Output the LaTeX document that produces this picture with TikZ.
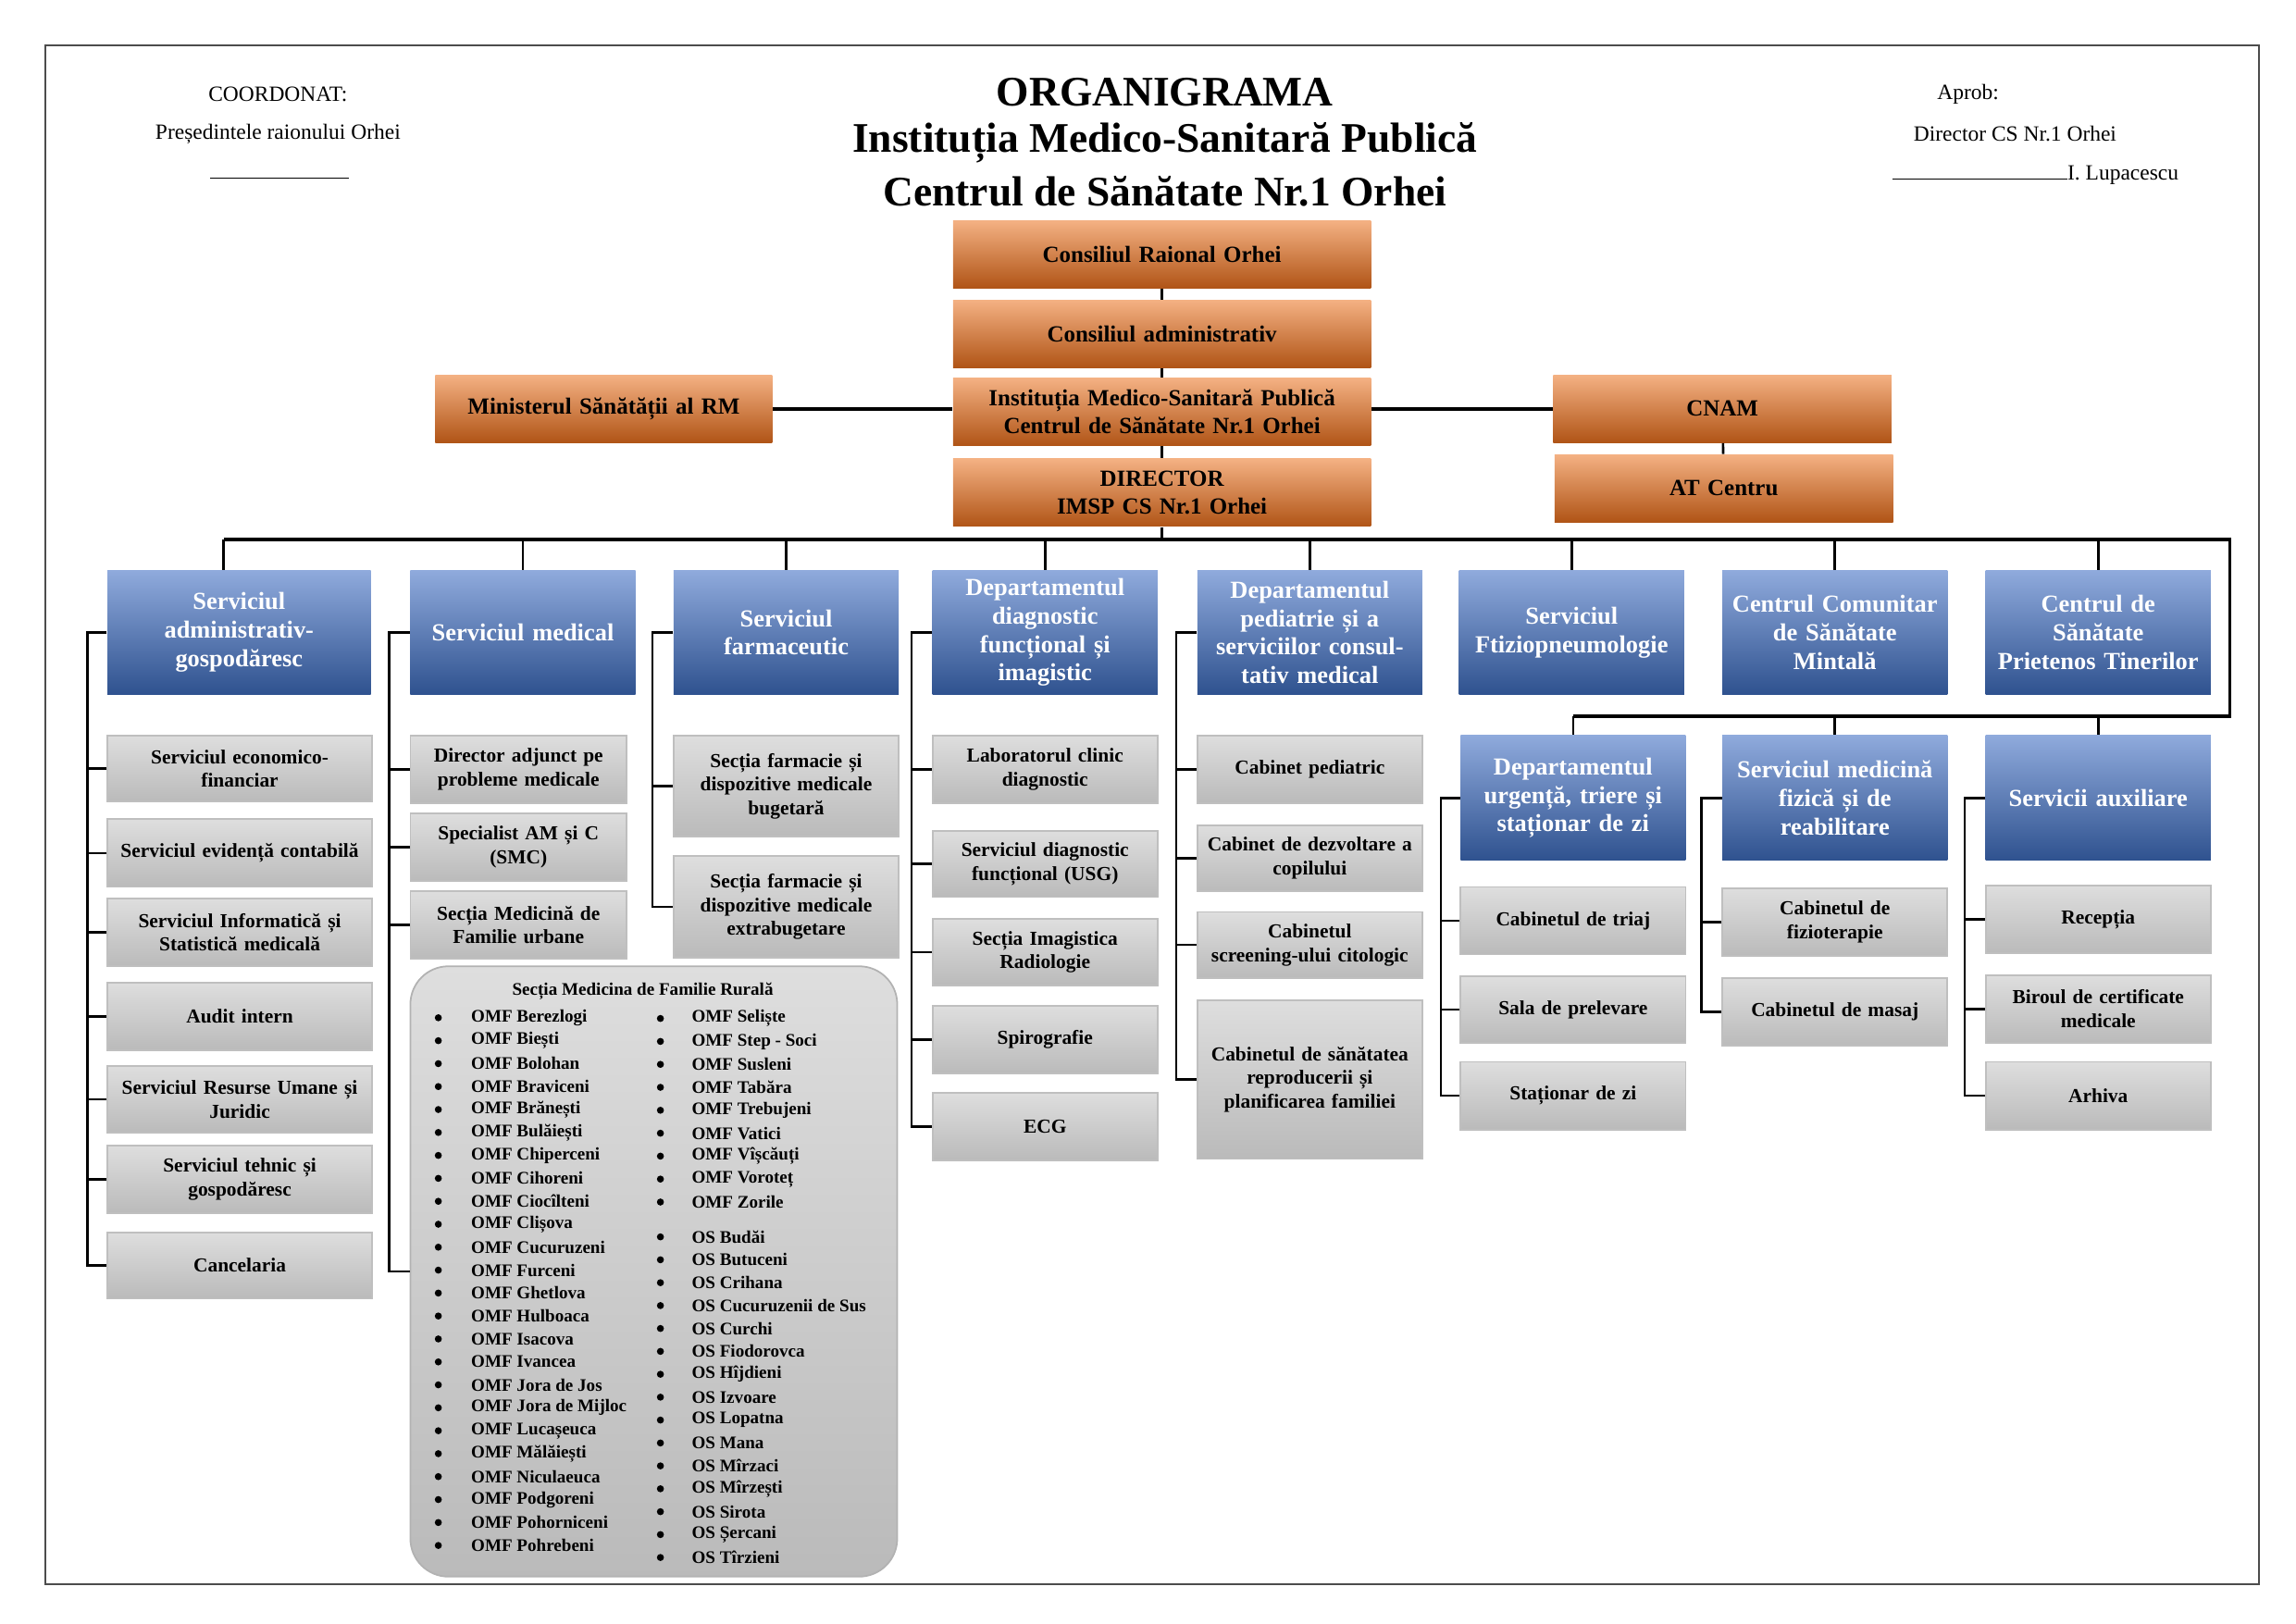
\documentclass[tikz,border=0pt]{standalone}
\usepackage{fontspec}
\setmainfont{Liberation Serif}
\begin{document}
\begin{tikzpicture}[x=0.019026cm,y=-0.019026cm,
  ln/.style={line width=0.9pt,black},
  obox/.style={draw=none,inner sep=1pt,align=center,font=\fontsize{8.5}{10}\selectfont\bfseries,
    top color={rgb,255:red,244;green,177;blue,131},middle color={rgb,255:red,237;green,125;blue,49},bottom color={rgb,255:red,176;green,84;blue,22}},
  bbox/.style={draw=none,inner sep=1pt,align=center,text=white,font=\fontsize{9}{10.5}\selectfont\bfseries,
    top color={rgb,255:red,143;green,170;blue,220},middle color={rgb,255:red,68;green,114;blue,196},bottom color={rgb,255:red,47;green,82;blue,143}},
  gbox/.style={draw=black!25,line width=0.6pt,top color=black!13,bottom color=black!27,inner sep=1pt,align=center,font=\fontsize{7.3}{8.7}\selectfont\bfseries},
  hdr/.style={font=\fontsize{8}{9}\selectfont,inner sep=0pt},
  ttl/.style={font=\fontsize{15.5}{17}\selectfont\bfseries,inner sep=0pt},
  li/.style={font=\fontsize{6.5}{7}\selectfont\bfseries,inner sep=0pt,anchor=west},
  bul/.style={circle,fill=black,inner sep=0pt,minimum size=2.6pt}]
\newcommand\bx[7]{\pgfmathsetmacro\tw{(#5-#3)*0.019026*28.4527-4}%
 \node[#1,minimum width={(#5-#3)*0.019026cm},minimum height={(#6-#4)*0.019026cm},text width=\tw pt] (#2) at ({(#3+#5)/2},{(#4+#6)/2}) {#7};}
\useasboundingbox (0,0) rectangle (1561,1104);
\draw[line width=0.6pt,black!70] (31,31) rectangle (1536,1077);
% header
\node[hdr] (co) at (189,64) {COORDONAT:};
\node[hdr] (pr) at (189,91) {Președintele raionului Orhei};
\node[hdr] (sl) at (190,121) {\rule{1.8cm}{0.4pt}};
\node[hdr] (ap) at (1338,64) {Aprob:};
\node[hdr] (dr) at (1370,91) {Director CS Nr.1 Orhei};
\node[hdr,anchor=west] (sr) at (1286,119) {\rule{2.27cm}{0.4pt}I. Lupacescu};
\node[ttl] (t1) at (792,63) {ORGANIGRAMA};
\node[ttl] (t2) at (792,97) {Instituția Medico-Sanitară Publică};
\node[ttl] (t3) at (792,130) {Centrul de Sănătate Nr.1 Orhei};
% orange
\bx{obox}{cr}{648}{150}{932}{196}{Consiliul Raional Orhei}
\bx{obox}{ca}{648}{204}{932}{250}{Consiliul administrativ}
\bx{obox}{im}{648}{257}{932}{303}{Instituția Medico-Sanitară Publică\\Centrul de Sănătate Nr.1 Orhei}
\bx{obox}{di}{648}{312}{932}{358}{DIRECTOR\\IMSP CS Nr.1 Orhei}
\bx{obox}{ms}{296}{255}{525}{301}{Ministerul Sănătății al RM}
\bx{obox}{cn}{1056}{255}{1286}{301}{CNAM}
\bx{obox}{at}{1057}{309}{1287}{355}{AT Centru}
\draw[ln] (cr) -- (ca); \draw[ln] (ca) -- (im); \draw[ln] (im) -- (di);
\draw[line width=1.3pt] (ms.east) -- (ms.east -| im.west); \draw[line width=1.3pt] (cn.west -| im.east) -- (cn.west);
\draw[ln] (cn) -- (at);
% blue top row
\bx{bbox}{h1}{73}{388}{252}{472}{Serviciul\\administrativ-\\gospodăresc}
\bx{bbox}{h2}{279}{388}{432}{472}{Serviciul medical}
\bx{bbox}{h3}{458}{388}{611}{472}{Serviciul\\farmaceutic}
\bx{bbox}{h4}{634}{388}{787}{472}{Departamentul\\diagnostic\\funcțional și\\imagistic}
\bx{bbox}{h5}{814}{388}{967}{472}{Departamentul\\pediatrie și a\\serviciilor consul-\\tativ medical}
\bx{bbox}{h6}{992}{388}{1145}{472}{Serviciul\\Ftiziopneumologie}
\bx{bbox}{h7}{1171}{388}{1324}{472}{Centrul Comunitar\\de Sănătate\\Mintală}
\bx{bbox}{h8}{1350}{388}{1503}{472}{Centrul de\\Sănătate\\Prietenos Tinerilor}
\bx{bbox}{u1}{993}{500}{1146}{585}{Departamentul\\urgență, triere și\\staționar de zi}
\bx{bbox}{u2}{1171}{500}{1324}{585}{Serviciul medicină\\fizică și de\\reabilitare}
\bx{bbox}{u3}{1350}{500}{1503}{585}{Servicii auxiliare}
% bus
\coordinate (bL) at (152,367); \coordinate (bR) at (1516,367); \coordinate (b2) at (1516,487);
\draw[line width=1.3pt] (bL) -- (bR) -- (b2) -- (b2 -| u1.north);
\draw[ln] (di.south) -- (di.south |- bL);
\draw[ln] (bL) -- (bL |- h1.north);
\foreach \h in {h2,h3,h4,h5,h6,h7,h8} \draw[ln] (\h.north |- bL) -- (\h.north);
\foreach \h in {u1,u2,u3} \draw[ln] (\h.north |- b2) -- (\h.north);
% column 1
\bx{gbox}{a1}{73}{500}{253}{545}{Serviciul economico-\\financiar}
\bx{gbox}{a2}{73}{557}{253}{603}{Serviciul evidență contabilă}
\bx{gbox}{a3}{73}{611}{253}{657}{Serviciul Informatică și\\Statistică medicală}
\bx{gbox}{a4}{73}{668}{253}{714}{Audit intern}
\bx{gbox}{a5}{73}{725}{253}{770}{Serviciul Resurse Umane și\\Juridic}
\bx{gbox}{a6}{73}{779}{253}{825}{Serviciul tehnic și\\gospodăresc}
\bx{gbox}{a7}{73}{838}{253}{883}{Cancelaria}
\draw[ln] (h1.west) -- ++(-13,0) |- (a7.west);
\foreach \c in {a1,a2,a3,a4,a5,a6} \draw[ln] (\c.west) -- ++(-13,0);
% column 2
\bx{gbox}{m1}{279}{500}{426}{546}{Director adjunct pe\\probleme medicale}
\bx{gbox}{m2}{279}{553}{426}{599}{Specialist AM și C\\(SMC)}
\bx{gbox}{m3}{279}{606}{426}{652}{Secția Medicină de\\Familie urbane}
\node[draw=black!30,line width=0.6pt,rounded corners=14pt,top color=black!13,bottom color=black!27,minimum width={331*0.019026cm},minimum height={415*0.019026cm},inner sep=0pt] (rr) at (444.5,864.5) {};
\draw[ln] (h2.west) -- ++(-14,0) |- (m1.west);
\draw[ln] (m1.west) ++(-14,0) |- (m2.west);
\draw[ln] (m2.west) ++(-14,0) |- (m3.west);
\draw[ln] (m3.west) ++(-14,0) |- (rr.west);
\node[li,anchor=center] (rt) at (437,674) {Secția Medicina de Familie Rurală};
\foreach \t [count=\i from 0] in {Berezlogi,Biești,Bolohan,Braviceni,Brănești,Bulăiești,Chiperceni,Cihoreni,Ciocîlteni,Clișova,Cucuruzeni,Furceni,Ghetlova,Hulboaca,Isacova,Ivancea,Jora de Jos,Jora de Mijloc,Lucașeuca,Mălăiești,Niculaeuca,Podgoreni,Pohorniceni,Pohrebeni}
 {\node[bul] (lb\i) at (298,{692+15.6*\i}) {}; \node[li] (lt\i) at (320,{692+15.6*\i}) {OMF \t};}
\foreach \t [count=\i from 0] in {Seliște,Step - Soci,Susleni,Tabăra,Trebujeni,Vatici,Vîșcăuți,Voroteț,Zorile}
 {\node[bul] (rb\i) at (449,{692.5+15.6*\i}) {}; \node[li] (rt\i) at (470,{692.5+15.6*\i}) {OMF \t};}
\foreach \t [count=\i from 0] in {Budăi,Butuceni,Crihana,Cucuruzenii de Sus,Curchi,Fiodorovca,Hîjdieni,Izvoare,Lopatna,Mana,Mîrzaci,Mîrzești,Sirota,Șercani,Tîrzieni}
 {\node[bul] (sb\i) at (449,{841+15.57*\i}) {}; \node[li] (st\i) at (470,{841+15.57*\i}) {OS \t};}
% column 3
\bx{gbox}{f1}{458}{500}{611}{569}{Secția farmacie și\\dispozitive medicale\\bugetară}
\bx{gbox}{f2}{458}{582}{611}{651}{Secția farmacie și\\dispozitive medicale\\extrabugetare}
\draw[ln] (h3.west) -- ++(-14,0) |- (f2.west);
\draw[ln] (f1.west) -- ++(-14,0);
% column 4
\bx{gbox}{d1}{634}{500}{787}{546}{Laboratorul clinic\\diagnostic}
\bx{gbox}{d2}{634}{565}{787}{610}{Serviciul diagnostic\\funcțional (USG)}
\bx{gbox}{d3}{634}{625}{787}{670}{Secția Imagistica\\Radiologie}
\bx{gbox}{d4}{634}{684}{787}{730}{Spirografie}
\bx{gbox}{d5}{634}{743}{787}{789}{ECG}
\draw[ln] (h4.west) -- ++(-14,0) |- (d5.west);
\foreach \c in {d1,d2,d3,d4} \draw[ln] (\c.west) -- ++(-14,0);
% column 5
\bx{gbox}{p1}{814}{500}{967}{546}{Cabinet pediatric}
\bx{gbox}{p2}{814}{561}{967}{606}{Cabinet de dezvoltare a\\copilului}
\bx{gbox}{p3}{814}{620}{967}{665}{Cabinetul\\screening-ului citologic}
\bx{gbox}{p4}{814}{680}{967}{788}{Cabinetul de sănătatea\\reproducerii și\\planificarea familiei}
\draw[ln] (h5.west) -- ++(-14,0) |- (p4.west);
\foreach \c in {p1,p2,p3} \draw[ln] (\c.west) -- ++(-14,0);
% column 6
\bx{gbox}{e1}{993}{603}{1146}{649}{Cabinetul de triaj}
\bx{gbox}{e2}{993}{664}{1146}{709}{Sala de prelevare}
\bx{gbox}{e3}{993}{722}{1146}{768}{Staționar de zi}
\draw[ln] (u1.west) -- ++(-13,0) |- (e3.west);
\foreach \c in {e1,e2} \draw[ln] (\c.west) -- ++(-13,0);
% column 7
\bx{gbox}{r1}{1171}{604}{1324}{650}{Cabinetul de\\fizioterapie}
\bx{gbox}{r2}{1171}{665}{1324}{711}{Cabinetul de masaj}
\draw[ln] (u2.west) -- ++(-14,0) |- (r2.west);
\draw[ln] (r1.west) -- ++(-14,0);
% column 8
\bx{gbox}{x1}{1350}{602}{1503}{648}{Recepția}
\bx{gbox}{x2}{1350}{663}{1503}{709}{Biroul de certificate\\medicale}
\bx{gbox}{x3}{1350}{722}{1503}{768}{Arhiva}
\draw[ln] (u3.west) -- ++(-14,0) |- (x3.west);
\foreach \c in {x1,x2} \draw[ln] (\c.west) -- ++(-14,0);
\end{tikzpicture}
\end{document}
